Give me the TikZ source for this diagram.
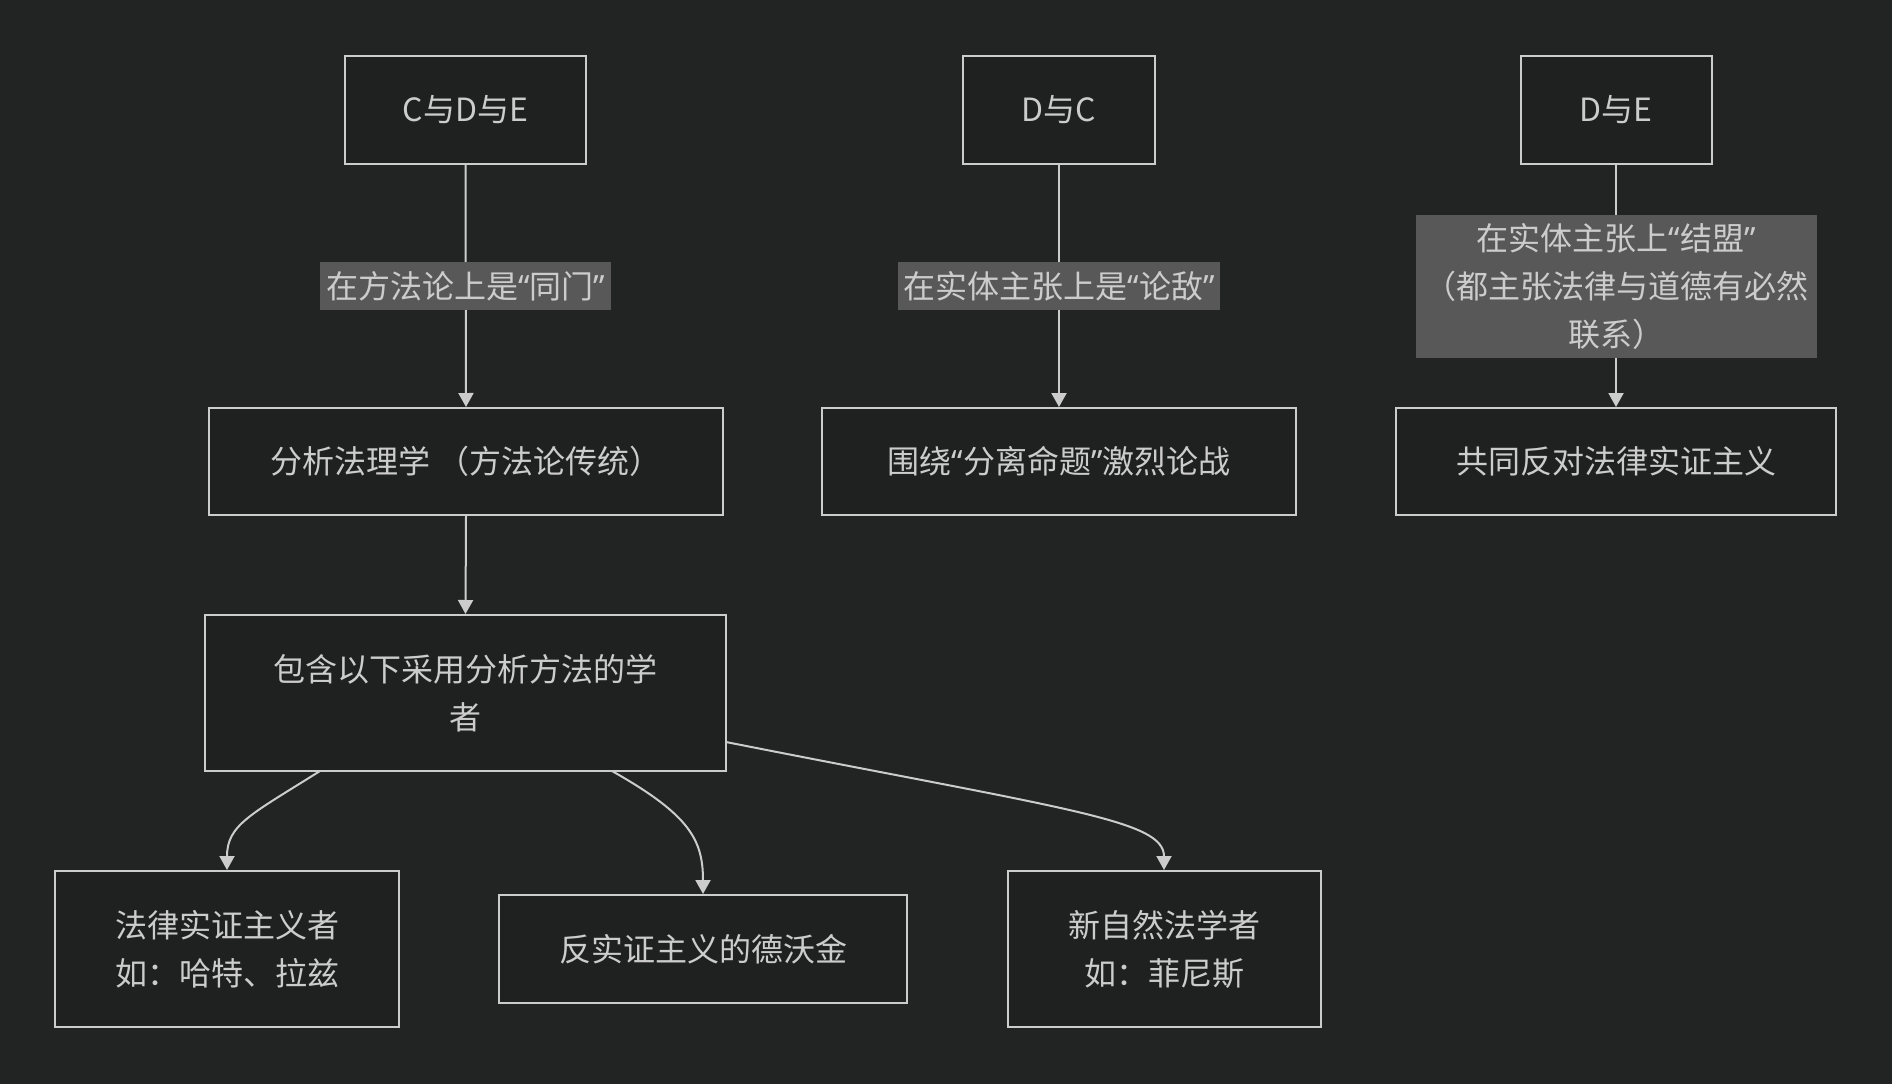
\documentclass[tikz,border=0pt]{standalone}
\usepackage{fontspec}
\newfontfamily\cjk{Noto Sans CJK SC}
\newfontfamily\lat{Noto Sans}
\usetikzlibrary{arrows.meta}
\definecolor{bgc}{HTML}{222323}
\definecolor{boxc}{HTML}{1F2020}
\definecolor{linec}{HTML}{CCCCCC}
\definecolor{labc}{HTML}{585858}
\newcommand{\myLQ}{{\lat “}}
\newcommand{\myRQ}{{\lat ”}}
\begin{document}
\begin{tikzpicture}[x=1pt,y=-1pt,
  every node/.style={font=\cjk\fontsize{32}{48}\selectfont, text=linec},
  boxn/.style={draw=linec, line width=2pt, fill=boxc, inner sep=0pt, align=center},
  lab/.style={fill=labc, inner sep=0pt, align=center},
  conn/.style={draw=linec, line width=2pt, -{Triangle[width=15pt,length=14pt]}},
]
\fill[bgc] (0,0) rectangle (1892,1084);
\useasboundingbox (0,0) rectangle (1892,1084);

\node[boxn, minimum width=241pt, minimum height=108pt] (A) at (465.5,110) {C与D与E};
\node[boxn, minimum width=192pt, minimum height=108pt] (B) at (1059,110) {D与C};
\node[boxn, minimum width=191pt, minimum height=108pt] (C) at (1616,110) {D与E};

\node[boxn, minimum width=514pt, minimum height=107pt] (F) at (466,461.5) {分析法理学 （方法论传统）};
\node[boxn, minimum width=474pt, minimum height=107pt] (G) at (1059,461.5) {围绕\myLQ 分离命题\myRQ 激烈论战};
\node[boxn, minimum width=440pt, minimum height=107pt] (H) at (1616,461.5) {共同反对法律实证主义};

\node[boxn, minimum width=521pt, minimum height=156pt] (I) at (465.5,693) {包含以下采用分析方法的学\\者};
\node[boxn, minimum width=344pt, minimum height=156pt] (J) at (227,949) {法律实证主义者\\如：哈特、拉兹};
\node[boxn, minimum width=408pt, minimum height=108pt] (K) at (703,949) {反实证主义的德沃金};
\node[boxn, minimum width=313pt, minimum height=156pt] (L) at (1164,949) {新自然法学者\\如：菲尼斯};

\draw[conn] (A.south) -- (F.north) node[midway, lab, minimum width=291pt, minimum height=48pt] (L1) {在方法论上是\myLQ 同门\myRQ};
\draw[conn] (B.south) -- (G.north) node[midway, lab, minimum width=322pt, minimum height=48pt] (L2) {在实体主张上是\myLQ 论敌\myRQ};
\draw[conn] (C.south) -- (H.north) node[midway, lab, minimum width=401pt, minimum height=143pt] (L3) {在实体主张上\myLQ 结盟\myRQ\\（都主张法律与道德有必然\\联系）};

\draw[conn] (F.south) -- (I.north);

\coordinate (i1) at (320,771);
\coordinate (i2) at (612,771);
\coordinate (i3) at (726,742);
\draw[conn] (i1) .. controls (250,815) and (227,825) .. (J.north);
\draw[conn] (i2) .. controls (690,815) and (703,840) .. (K.north);
\draw[conn] (i3) .. controls (1070,810) and (1164,820) .. (L.north);
\end{tikzpicture}
\end{document}
